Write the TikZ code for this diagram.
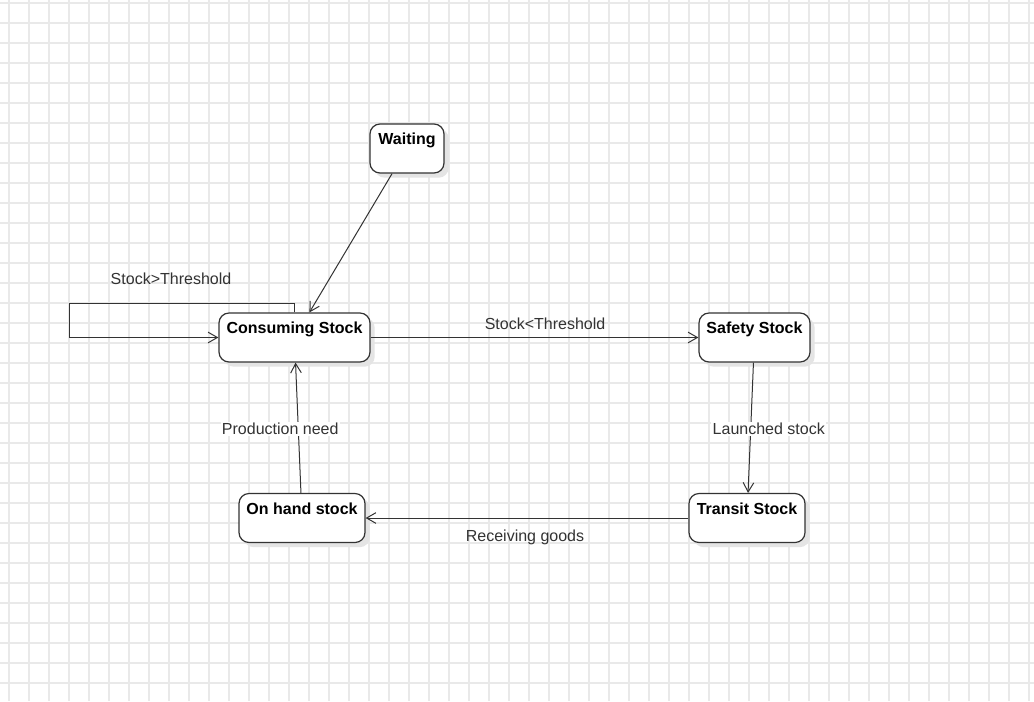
\documentclass[tikz,border=0pt]{standalone}
\usepackage{fontspec}
\setmainfont{Liberation Sans}
\usepackage{tikz}
\usetikzlibrary{arrows.meta,shadows}
\definecolor{linecol}{RGB}{51,51,51}
\definecolor{gridcol}{RGB}{233,233,233}
\definecolor{shadecol}{RGB}{228,228,228}
\tikzset{
  % background grid line
  gridline/.style={draw=gridcol, line width=0.8pt},
  % state box, text near the top
  state/.style={rectangle, rounded corners=7.5pt, draw=linecol, line width=0.9pt, fill=white,
                font=\fontsize{12}{14}\selectfont\bfseries, inner sep=0pt,
                text height=15.4pt, text depth=21.35pt, minimum width=#1,
                drop shadow={shadow xshift=3.5pt, shadow yshift=-3.5pt, fill=shadecol, opacity=1}},
  state/.default={80pt},
  % transition
  trans/.style={draw=linecol, line width=0.75pt, -{Straight Barb[length=7pt,width=8pt]}},
  % transition label
  tlabel/.style={font=\fontsize{12}{14}\selectfont, text=linecol, inner sep=1pt},
}
\begin{document}
\begin{tikzpicture}[x=0.75pt, y=-0.75pt]
  \useasboundingbox (0,0) rectangle (1034,701);
  \fill[white] (0,0) rectangle (1034,701);

  % grid
  \foreach \gx in {9,29,...,1029}
    \draw[gridline] (\gx,0) -- (\gx,701);
  \foreach \gy in {3,23,...,703}
    \draw[gridline] (0,\gy) -- (1034,\gy);

  % states
  \node[state=55.5pt] (wait) at (407,148.5) {Waiting};
  \node[state=113.25pt] (cons) at (294.5,337.5) {Consuming Stock};
  \node[state=83.25pt] (safe) at (754.5,337.5) {Safety Stock};
  \node[state=87pt] (trans) at (747,518) {Transit Stock};
  \node[state=94.5pt] (hand) at (302,518) {On hand stock};

  % transitions
  \coordinate (loopL) at (69,303);
  \draw[trans] (wait) -- (cons);
  \draw[trans] (cons.north) |- (loopL) |- (cons.west);
  \node[tlabel] (lthr) at (171,279) {Stock>Threshold};
  \draw[trans] (cons) -- (safe);
  \node[tlabel] (lstk) at (545,324) {Stock<Threshold};
  \draw[trans] (safe) -- (trans) node[tlabel, fill=white, pos=0.5, xshift=13.5pt, yshift=-0.75pt] (llau) {Launched stock};
  \draw[trans] (trans) -- (hand);
  \node[tlabel] (lrec) at (525,537) {Receiving goods};
  \draw[trans] (hand) -- (cons) node[tlabel, fill=white, pos=0.5, xshift=-13.5pt, yshift=-0.75pt] (lpro) {Production need};
\end{tikzpicture}
\end{document}
